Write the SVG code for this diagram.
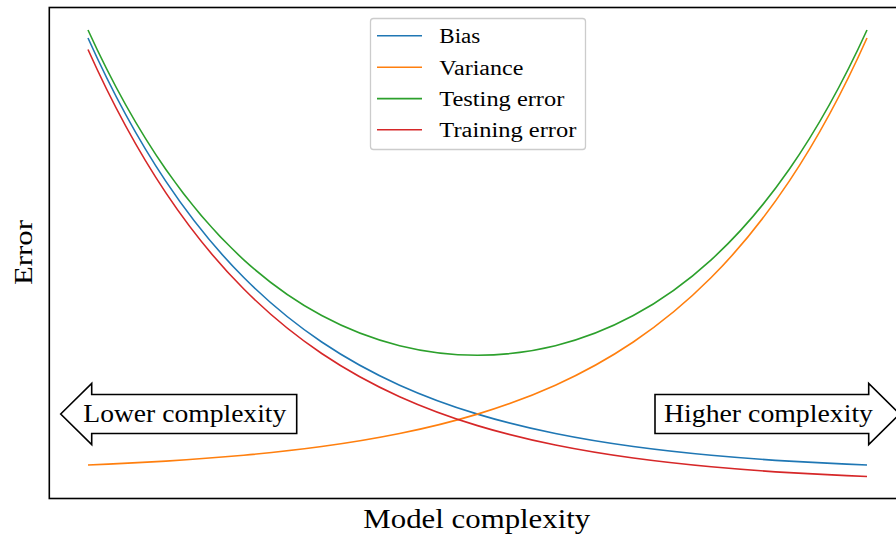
<svg xmlns="http://www.w3.org/2000/svg" xmlns:xlink="http://www.w3.org/1999/xlink" width="896" height="537" viewBox="0 0 896 537">
<style>
.curve{fill:none;stroke-width:1.6;stroke-linecap:butt;stroke-linejoin:round}
.bias{stroke:#1f77b4}.var{stroke:#ff7f0e}.test{stroke:#2ca02c}.train{stroke:#d62728}
text{font-family:"Liberation Serif","Times New Roman","DejaVu Serif",serif;fill:#000}
.arrow{fill:#fff;stroke:#000;stroke-width:1.6;stroke-linejoin:miter}
.leg{stroke-width:1.6}
</style>
<defs>
<path id="biasPath" d="M88,38 C113.97,96 139.93,142.53 165.9,181.41 C191.87,220.29 217.83,251.48 243.8,277.54 C269.77,303.6 295.73,324.51 321.7,341.98 C347.67,359.45 373.63,373.47 399.6,385.18 C425.57,396.89 451.53,406.28 477.5,414.13 C503.47,421.98 529.43,428.28 555.4,433.54 C581.37,438.8 607.33,443.02 633.3,446.55 C659.27,450.08 685.23,452.91 711.2,455.27 C737.17,457.63 763.13,459.53 789.1,461.11 C815.07,462.69 841.03,463.97 867,465.03"/>
</defs>
<rect x="0" y="0" width="896" height="537" fill="#fff"/>
<g id="axes">
<rect x="49.3" y="7.5" width="900" height="491" fill="none" stroke="#000" stroke-width="1.6"/>
</g>
<g id="curves">
<use xlink:href="#biasPath" class="curve bias"/>
<use xlink:href="#biasPath" class="curve var" transform="translate(955,0) scale(-1,1)"/>
<path class="curve test" d="M88,30.03 C113.97,86.97 139.93,132.24 165.9,169.53 C191.87,206.82 217.83,236.11 243.8,259.81 C269.77,283.51 295.73,301.59 321.7,315.53 C347.67,329.47 373.63,339.26 399.6,345.71 C425.57,352.16 451.53,355.26 477.5,355.26 C503.47,355.26 529.43,352.16 555.4,345.71 C581.37,339.26 607.33,329.47 633.3,315.53 C659.27,301.59 685.23,283.51 711.2,259.81 C737.17,236.11 763.13,206.82 789.1,169.53 C815.07,132.24 841.03,86.97 867,30.03"/>
<use xlink:href="#biasPath" class="curve train" transform="translate(0,11.5)"/>
</g>
<g id="legend" font-family="Liberation Serif, serif">
<rect x="370.5" y="18.5" width="215" height="131" rx="3" fill="#fff" fill-opacity="0.8" stroke="#cccccc" stroke-width="1.3"/>
<line class="leg bias" x1="377" y1="35.7" x2="422" y2="35.7"/>
<line class="leg var" x1="377" y1="67.2" x2="422" y2="67.2"/>
<line class="leg test" x1="377" y1="98.6" x2="422" y2="98.6"/>
<line class="leg train" x1="377" y1="129.8" x2="422" y2="129.8"/>
<text x="439.3" y="43.3" font-size="20.5" textLength="41" lengthAdjust="spacingAndGlyphs">Bias</text>
<text x="439.3" y="74.6" font-size="20.5" textLength="84" lengthAdjust="spacingAndGlyphs">Variance</text>
<text x="439.3" y="105.9" font-size="20.5" textLength="125" lengthAdjust="spacingAndGlyphs">Testing error</text>
<text x="439.3" y="137.2" font-size="20.5" textLength="137" lengthAdjust="spacingAndGlyphs">Training error</text>
</g>
<g id="lower">
<polygon class="arrow" points="60.7,414 91.7,383.5 91.7,394.5 296.7,394.5 296.7,433.5 91.7,433.5 91.7,444.5"/>
<text x="83.3" y="421.7" font-size="25" textLength="203" lengthAdjust="spacingAndGlyphs">Lower complexity</text>
</g>
<g id="higher">
<polygon class="arrow" points="655,394.5 868.7,394.5 868.7,383.5 899.7,414 868.7,444.5 868.7,433.5 655,433.5"/>
<text x="664" y="421.7" font-size="25" textLength="209" lengthAdjust="spacingAndGlyphs">Higher complexity</text>
</g>
<g id="labels">
<text x="363.3" y="528.3" font-size="27" textLength="227" lengthAdjust="spacingAndGlyphs">Model complexity</text>
<text transform="translate(31.7,285) rotate(-90)" x="0" y="0" font-size="26" textLength="65" lengthAdjust="spacingAndGlyphs">Error</text>
</g>
</svg>
